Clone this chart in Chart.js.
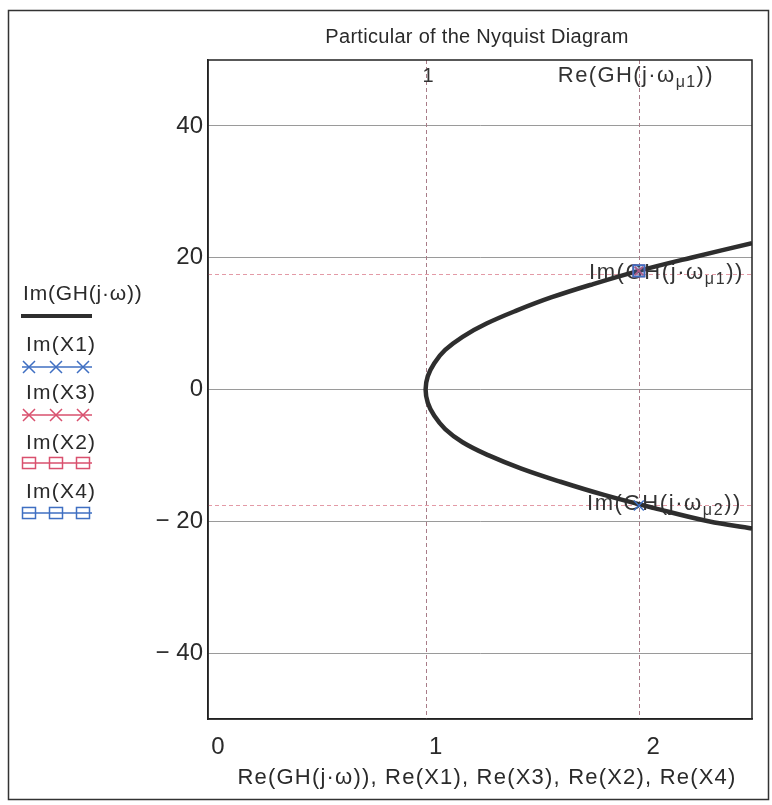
<!DOCTYPE html>
<html><head><meta charset="utf-8">
<script src="https://cdn.jsdelivr.net/npm/chart.js@4/dist/chart.umd.min.js"></script>
<style>html,body{margin:0;padding:0;background:#fff}#wrap{width:772px;height:805px;position:relative}</style>
</head><body><div id="wrap"><canvas id="c" width="772" height="805"></canvas></div>
<script>
// ---- data ----
const curveRe = [2.50, 2.30, 2.05, 1.82, 1.62, 1.44, 1.29, 1.17, 1.09, 1.04, 1.01, 1.00, 1.01, 1.04, 1.09, 1.17, 1.28, 1.42, 1.58, 1.77, 1.98, 2.22, 2.50];
const curveIm = [-21.1, -20, -18, -16, -14, -12, -10, -8, -6, -4, -2, 0, 2, 4, 6, 8, 10, 12, 14, 16, 18, 20, 22.2];
const x1Re = [1.98], x1Im = [-17.6];
const x3Re = [1.98], x3Im = [18.0];
const x2Re = [1.98], x2Im = [18.0];
const x4Re = [1.98], x4Im = [18.0];
const markerRe = [1, 1.98];          // vertical markers
const markerIm = [17.5, -17.5];      // horizontal markers
const xTicks = [0, 1, 2];
const yTicks = [-40, -20, 0, 20, 40];

const BLUE = '#3f6fc2', RED = '#d9506e', CURVE = '#2e2e2e', TXT = '#2a2a2a';
const FONT = '"Liberation Sans", Arial, sans-serif';

const pts = (xs, ys) => xs.map((x, i) => ({x, y: ys[i]}));

function rich(ctx, parts, x, y, align, size, ls) {
  ctx.save();
  ctx.textBaseline = 'middle';
  ctx.textAlign = 'left';
  ctx.letterSpacing = (ls || 0) + 'px';
  let w = 0;
  parts.forEach(p => { ctx.font = (p.sub ? Math.round(size*0.72) : size) + 'px ' + FONT; w += ctx.measureText(p.t).width; });
  let cx = align === 'right' ? x - w : (align === 'center' ? x - w/2 : x);
  parts.forEach(p => {
    ctx.font = (p.sub ? Math.round(size*0.72) : size) + 'px ' + FONT;
    ctx.fillText(p.t, cx, y + (p.sub ? size*0.3 : 0));
    cx += ctx.measureText(p.t).width;
  });
  ctx.restore();
}

function cross(ctx, x, y, r, color) {
  ctx.save(); ctx.strokeStyle = color; ctx.lineWidth = 1.5;
  ctx.beginPath(); ctx.moveTo(x-r, y-r); ctx.lineTo(x+r, y+r); ctx.moveTo(x+r, y-r); ctx.lineTo(x-r, y+r); ctx.stroke();
  ctx.restore();
}
function square(ctx, x, y, r, color) {
  ctx.save(); ctx.strokeStyle = color; ctx.lineWidth = 1.5;
  ctx.strokeRect(x-r, y-r*0.85, 2*r, 1.7*r);
  ctx.restore();
}

const decor = {
  id: 'decor',
  beforeDatasetsDraw(chart) {
    const {ctx, chartArea: a, scales: {x, y}} = chart;
    ctx.save();
    ctx.setLineDash([4, 3]);
    ctx.lineWidth = 1;
    ctx.strokeStyle = '#a87c88';
    markerRe.forEach(v => { const px = Math.round(x.getPixelForValue(v)) + 0.5; ctx.beginPath(); ctx.moveTo(px, a.top); ctx.lineTo(px, a.bottom); ctx.stroke(); });
    ctx.strokeStyle = '#e39aa6';
    markerIm.forEach(v => { const py = Math.round(y.getPixelForValue(v)) + 0.5; ctx.beginPath(); ctx.moveTo(a.left, py); ctx.lineTo(a.right, py); ctx.stroke(); });
    ctx.setLineDash([]);
    ctx.fillStyle = '#333';
    const lx = x.getPixelForValue(markerRe[0]);
    rich(ctx, [{t: String(markerRe[0])}], lx - 3, a.top + 16, 'left', 20, 0);
    rich(ctx, [{t: 'Re(GH(j·ω'}, {t: 'μ1', sub: true}, {t: '))'}], a.right - 38, a.top + 16, 'right', 22, 1.4);
    rich(ctx, [{t: 'Im(GH(j·ω'}, {t: 'μ1', sub: true}, {t: '))'}], a.right - 8, y.getPixelForValue(markerIm[0]) - 1, 'right', 22, 1.6);
    rich(ctx, [{t: 'Im(GH(j·ω'}, {t: 'μ2', sub: true}, {t: '))'}], a.right - 10, y.getPixelForValue(markerIm[1]) - 1, 'right', 22, 1.6);
    ctx.restore();
  },
  afterDraw(chart) {
    const {ctx, chartArea: a} = chart;
    ctx.save();
    ctx.strokeStyle = '#222'; ctx.lineWidth = 1.5;
    ctx.strokeRect(a.left, a.top, a.right - a.left, a.bottom - a.top);
    ctx.strokeStyle = '#333';
    ctx.strokeRect(8.5, 10.5, 760, 789);
    ctx.fillStyle = TXT;
    ctx.textAlign = 'center'; ctx.textBaseline = 'middle';
    ctx.font = '20px ' + FONT; ctx.letterSpacing = '0.3px';
    ctx.fillText('Particular of the Nyquist Diagram', 477, 37);
    ctx.font = '22px ' + FONT; ctx.letterSpacing = '1.2px';
    ctx.fillText('Re(GH(j·ω)), Re(X1), Re(X3), Re(X2), Re(X4)', 487, 778);
    ctx.textAlign = 'left';
    ctx.font = '21px ' + FONT; ctx.letterSpacing = '0.8px';
    ctx.fillText('Im(GH(j·ω))', 23, 294);
    ctx.strokeStyle = CURVE; ctx.lineWidth = 4;
    ctx.beginPath(); ctx.moveTo(21, 316); ctx.lineTo(92, 316); ctx.stroke();
    const rows = [
      ['Im(X1)', 345, 367, BLUE, 'x'],
      ['Im(X3)', 393, 415, RED, 'x'],
      ['Im(X2)', 443, 463, RED, 's'],
      ['Im(X4)', 492, 513, BLUE, 's'],
    ];
    ctx.letterSpacing = '1.2px';
    rows.forEach(([t, ty, my, col, k]) => {
      ctx.fillStyle = TXT;
      ctx.fillText(t, 26, ty);
      ctx.strokeStyle = col; ctx.lineWidth = 1.3;
      ctx.beginPath(); ctx.moveTo(22, my); ctx.lineTo(92, my); ctx.stroke();
      [29, 56, 83].forEach(cx => k === 'x' ? cross(ctx, cx, my, 6, col) : square(ctx, cx, my, 6.5, col));
    });
    ctx.restore();
  }
};

new Chart(document.getElementById('c'), {
  type: 'scatter',
  data: {
    datasets: [
      {label: 'Im(GH(j·ω))', data: pts(curveRe, curveIm), showLine: true, borderColor: CURVE, borderWidth: 4.5, pointRadius: 0, tension: 0.4, order: 5},
      {label: 'Im(X1)', data: pts(x1Re, x1Im), pointStyle: 'crossRot', pointRadius: 7, borderColor: BLUE, borderWidth: 1.5, showLine: false, order: 4},
      {label: 'Im(X3)', data: pts(x3Re, x3Im), pointStyle: 'crossRot', pointRadius: 6, borderColor: RED, borderWidth: 1.8, showLine: false, order: 3},
      {label: 'Im(X2)', data: pts(x2Re, x2Im), pointStyle: 'rect', pointRadius: 8, borderColor: RED, backgroundColor: 'rgba(0,0,0,0)', borderWidth: 1.5, showLine: false, order: 2},
      {label: 'Im(X4)', data: pts(x4Re, x4Im), pointStyle: 'rect', pointRadius: 8, borderColor: BLUE, backgroundColor: 'rgba(63,111,194,0.3)', borderWidth: 1.8, showLine: false, order: 1},
    ]
  },
  options: {
    responsive: false,
    animation: false,
    devicePixelRatio: 1,
    layout: {padding: {left: 0, top: 60, right: 20, bottom: 0}},
    plugins: {legend: {display: false}, title: {display: false}, tooltip: {enabled: false}},
    scales: {
      x: {
        type: 'linear', min: 0, max: 2.5,
        afterFit(s) { s.height = 86; },
        afterBuildTicks(s) { s.ticks = xTicks.map(v => ({value: v})); },
        grid: {display: false, drawTicks: false},
        border: {display: true, color: '#222', width: 1.5},
        ticks: {padding: 14, labelOffset: 10, color: TXT, font: {family: FONT, size: 24}, maxRotation: 0}
      },
      y: {
        type: 'linear', min: -50, max: 50,
        afterFit(s) { s.width = 208; },
        afterBuildTicks(s) { s.ticks = yTicks.map(v => ({value: v})); },
        grid: {color: '#9a9a9a', lineWidth: 1, drawTicks: false},
        border: {display: true, color: '#222', width: 1.5},
        ticks: {padding: 5, color: TXT, font: {family: FONT, size: 24},
          callback: v => v < 0 ? '\u2212 ' + Math.abs(v) : String(v)}
      }
    }
  },
  plugins: [decor]
});
</script></body></html>
